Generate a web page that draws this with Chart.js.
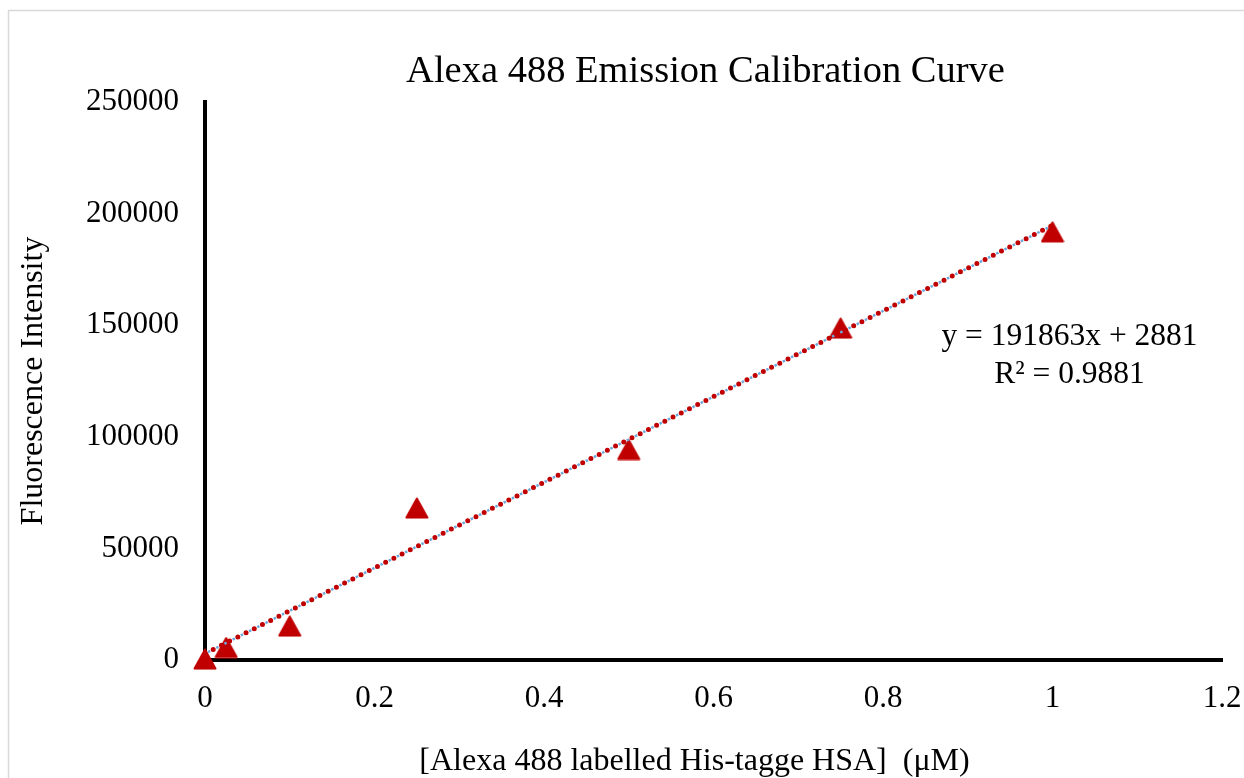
<!DOCTYPE html>
<html>
<head>
<meta charset="utf-8">
<script src="https://cdn.jsdelivr.net/npm/chart.js@4/dist/chart.umd.min.js"></script>
<style>
  html, body { margin: 0; padding: 0; background: #ffffff; }
  #wrap { width: 1244px; height: 778px; position: relative; }
</style>
</head>
<body>
<div id="wrap"><canvas id="c" width="1244" height="778"></canvas></div>
<script>
// ---- data ----
const concentrations = [0, 0.025, 0.1, 0.25, 0.5, 0.75, 1];
const intensities = [400, 5600, 15200, 68100, 94300, 148700, 191800];
const trendSlope = 191863;
const trendIntercept = 2881;
const equationText = "y = 191863x + 2881";
const r2Text = "R² = 0.9881";
const chartTitle = "Alexa 488 Emission Calibration Curve";
const xTitle = "[Alexa 488 labelled His-tagge HSA]  (μM)";
const yTitle = "Fluorescence Intensity";
const xTicks = [0, 0.2, 0.4, 0.6, 0.8, 1, 1.2];
const yTicks = [0, 50000, 100000, 150000, 200000, 250000];

const FONT = '"Liberation Serif", "Times New Roman", serif';

const scatterPoints = concentrations.map((x, i) => ({ x: x, y: intensities[i] }));
const xMinData = Math.min(...concentrations);
const xMaxData = Math.max(...concentrations);
const trendPoints = [xMinData, xMaxData].map(x => ({ x: x, y: trendSlope * x + trendIntercept }));

// marker glyph: rounded red triangle (Excel style)
function makeTriangleMarker(w, h, color) {
  const cv = document.createElement('canvas');
  cv.width = w; cv.height = h;
  const c = cv.getContext('2d');
  c.fillStyle = color; c.strokeStyle = color;
  c.lineWidth = 2; c.lineJoin = 'round';
  c.beginPath();
  c.moveTo(w / 2, 1.5);
  c.lineTo(w - 1.5, h - 1.5);
  c.lineTo(1.5, h - 1.5);
  c.closePath();
  c.fill(); c.stroke();
  return cv;
}
const triMarker = makeTriangleMarker(24, 22, '#c00000');

const decorPlugin = {
  id: 'decor',
  beforeDraw(chart) {
    const ctx = chart.ctx;
    ctx.save();
    ctx.fillStyle = '#ffffff';
    ctx.fillRect(0, 0, chart.width, chart.height);
    ctx.strokeStyle = '#d9d9d9';
    ctx.lineWidth = 1.5;
    ctx.strokeRect(8.5, 10.5, chart.width + 20, chart.height + 20);
    ctx.restore();
  },
  afterDraw(chart) {
    const ctx = chart.ctx;
    const xs = chart.scales.x, ys = chart.scales.y;
    const ca = chart.chartArea;
    ctx.save();
    ctx.fillStyle = '#000000';
    ctx.textAlign = 'center';
    ctx.textBaseline = 'alphabetic';
    ctx.font = '38.5px ' + FONT;
    ctx.fillText(chartTitle, (ca.left + ca.right) / 2 - 8, 82);
    ctx.font = '32px ' + FONT;
    ctx.fillText(xTitle, (ca.left + ca.right) / 2 - 19, 770);
    ctx.font = '31.5px ' + FONT;
    const ex = xs.getPixelForValue(1);
    ctx.fillText(equationText, ex + 17, ys.getPixelForValue(141000));
    ctx.fillText(r2Text, ex + 17, ys.getPixelForValue(124000));
    ctx.restore();
  }
};

new Chart(document.getElementById('c'), {
  type: 'scatter',
  data: {
    datasets: [
      {
        label: 'trend',
        type: 'line',
        data: trendPoints,
        borderColor: '#c00000',
        borderWidth: 5,
        borderDash: [0, 9.2],
        borderCapStyle: 'round',
        pointRadius: 0,
        fill: false
      },
      {
        label: 'trendBlue',
        type: 'line',
        data: trendPoints,
        borderColor: '#6fa8dc',
        borderWidth: 2.5,
        borderDash: [2.5, 6.7],
        borderDashOffset: -3.35,
        pointRadius: 0,
        fill: false
      },
      {
        label: 'data',
        data: scatterPoints,
        pointStyle: triMarker,
        pointRadius: 12,
        pointBackgroundColor: '#c00000',
        pointBorderColor: '#c00000',
        clip: false
      }
    ]
  },
  plugins: [decorPlugin],
  options: {
    responsive: false,
    animation: false,
    layout: { padding: { top: 102, right: 22, left: 0, bottom: 0 } },
    plugins: {
      legend: { display: false },
      tooltip: { enabled: false },
      title: { display: false }
    },
    scales: {
      x: {
        type: 'linear',
        min: 0,
        max: 1.2,
        afterBuildTicks(scale) { scale.ticks = xTicks.map(v => ({ value: v })); },
        afterFit(scale) { scale.height = 118; scale.paddingRight = 0; scale.paddingLeft = 0; },
        grid: { display: false, drawTicks: false },
        border: { display: true, color: '#000000', width: 4 },
        ticks: {
          color: '#000000',
          font: { family: FONT, size: 31 },
          padding: 20,
          callback: v => String(v)
        },
        title: { display: false }
      },
      y: {
        type: 'linear',
        min: 0,
        max: 250000,
        afterBuildTicks(scale) { scale.ticks = yTicks.map(v => ({ value: v })); },
        afterFit(scale) { scale.width = 205; scale.paddingTop = 0; scale.paddingBottom = 0; },
        grid: { display: false, drawTicks: false },
        border: { display: true, color: '#000000', width: 4 },
        ticks: {
          color: '#000000',
          font: { family: FONT, size: 31 },
          padding: 26,
          callback: v => String(v)
        },
        title: {
          display: true,
          text: yTitle,
          color: '#000000',
          font: { family: FONT, size: 32 },
          padding: { top: 14, bottom: 0 }
        }
      }
    }
  }
});
</script>
</body>
</html>
